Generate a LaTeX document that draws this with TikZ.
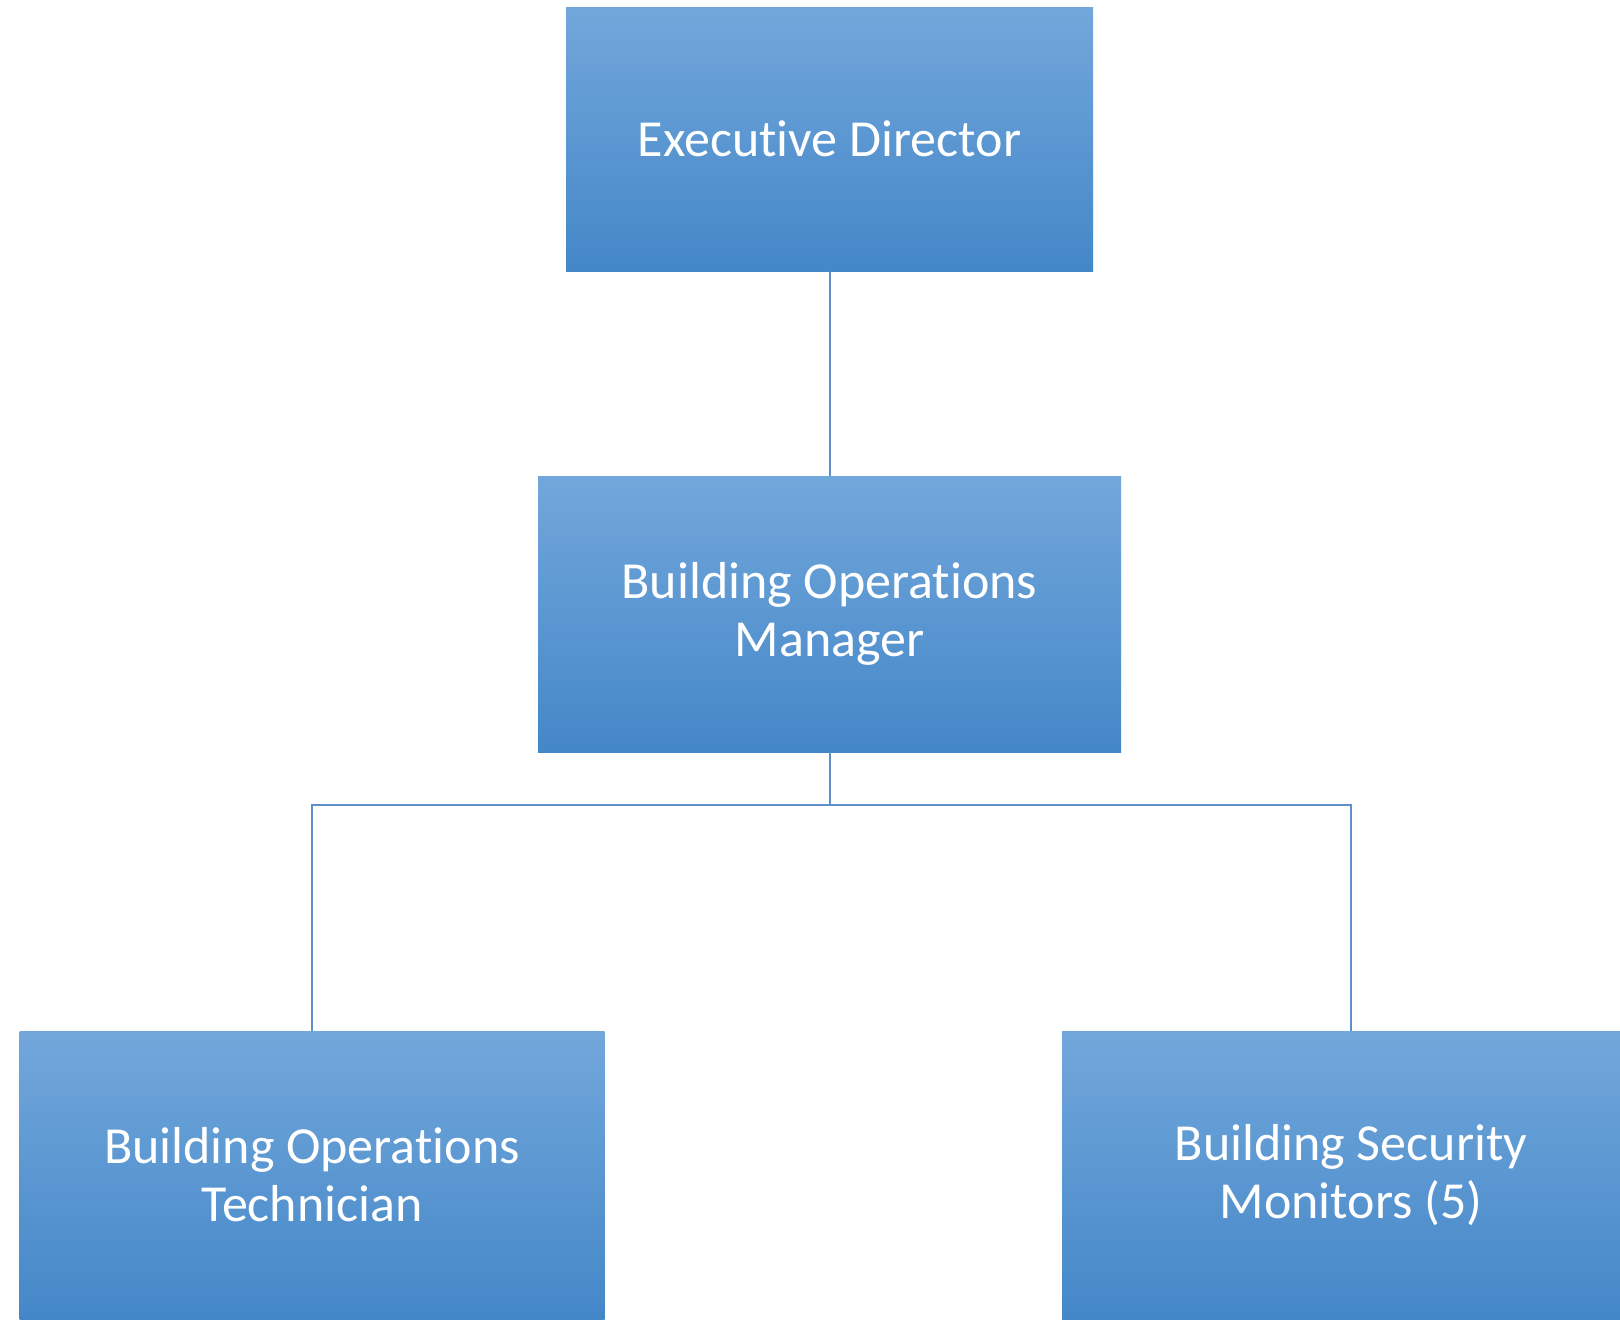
\documentclass[tikz,border=0pt]{standalone}
\usepackage{fontspec}
\setmainfont{Carlito}[Ligatures=NoCommon]
\definecolor{gtop}{HTML}{72A7DB}
\definecolor{gmid}{HTML}{589CDC}
\definecolor{gbot}{HTML}{4487C8}
\definecolor{conn}{HTML}{5F8FC9}
\tikzset{
  box/.style={rectangle, inner sep=0pt, top color=gtop, middle color=gmid, bottom color=gbot,
    draw=none, text=white, align=center,
    font=\fontsize{26pt}{29pt}\selectfont},
  link/.style={draw=conn, line width=1pt}
}
\begin{document}
\begin{tikzpicture}[x=0.5pt,y=-0.5pt]
\clip (0,0) rectangle (1620,1319);
\fill[white] (0,0) rectangle (1620,1319);
\node[box, minimum width=263.5pt, minimum height=132pt] (exec) at (829.5,139) {Executive Director};
\node[box, minimum width=291.5pt, minimum height=138pt] (mgr) at (829.5,614) {Building Operations\\Manager};
\node[box, minimum width=292.5pt, minimum height=144pt] (tech) at (312,1175) {Building Operations\\Technician};
\node[box, minimum width=289pt, minimum height=144pt] (mon) at (1351,1175) {Building Security\\Monitors (5)};
\coordinate (bus) at (829.5,805);
\draw[link] (exec.south) -- (mgr.north);
\draw[link] (mgr.south) -- (bus);
\draw[link] (tech.north) |- (bus) -| (mon.north);
\end{tikzpicture}
\end{document}
